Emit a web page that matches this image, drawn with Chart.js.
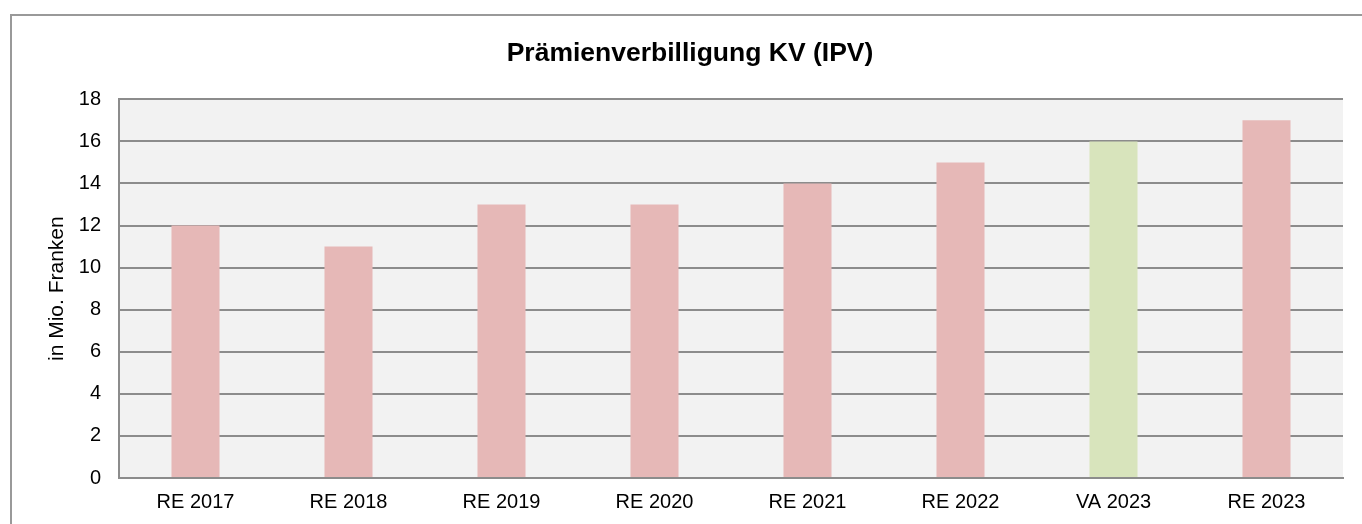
<!DOCTYPE html>
<html>
<head>
<meta charset="utf-8">
<script src="https://cdn.jsdelivr.net/npm/chart.js@4"></script>
<style>
  html, body { margin: 0; padding: 0; background: #fff; }
  #wrap { position: relative; width: 1362px; height: 524px; }
</style>
</head>
<body>
<div id="wrap"><canvas id="ipvChart"></canvas></div>
<script>
// Daten
const categories = ["RE 2017", "RE 2018", "RE 2019", "RE 2020", "RE 2021", "RE 2022", "VA 2023", "RE 2023"];
const values = [12, 11, 13, 13, 14, 15, 16, 17];
const barColors = ["#e6b8b7", "#e6b8b7", "#e6b8b7", "#e6b8b7", "#e6b8b7", "#e6b8b7", "#d8e4bc", "#e6b8b7"];
const yTicks = [0, 2, 4, 6, 8, 10, 12, 14, 16, 18];

const FONT = "'Liberation Sans', Arial, sans-serif";

// Rahmen + grauer Plot-Hintergrund
const frameAndBg = {
  id: "frameAndBg",
  afterLayout(chart) {
    // Titel etwas nach rechts schieben (Mitte ~690 wie im Original)
    const tb = chart.titleBlock;
    if (tb) { tb.right = tb.left + 2 * (690 - tb.left); }
  },
  beforeDraw(chart) {
    const { ctx, chartArea: a } = chart;
    ctx.save();
    ctx.fillStyle = "#f2f2f2";
    ctx.fillRect(a.left, a.top, a.right - a.left, a.bottom - a.top);
    ctx.strokeStyle = "#999999";
    ctx.lineWidth = 2;
    ctx.beginPath();
    ctx.moveTo(11, 524);
    ctx.lineTo(11, 15);
    ctx.lineTo(1362, 15);
    ctx.stroke();
    ctx.restore();
  }
};

new Chart(document.getElementById("ipvChart"), {
  type: "bar",
  data: {
    labels: categories,
    datasets: [{
      data: values,
      backgroundColor: barColors,
      borderWidth: 0,
      categoryPercentage: 1,
      barPercentage: 0.314
    }]
  },
  options: {
    responsive: true,
    maintainAspectRatio: false,
    animation: false,
    layout: { padding: { left: 12, right: 19, top: 16, bottom: 0 } },
    plugins: {
      legend: { display: false },
      tooltip: { enabled: false },
      title: {
        display: true,
        text: "Prämienverbilligung KV (IPV)",
        color: "#000",
        font: { family: FONT, size: 26.5, weight: "bold" },
        padding: { top: 22, bottom: 29.5 }
      }
    },
    scales: {
      x: {
        grid: { display: false },
        border: { display: true, color: "#8c8c8c", width: 2 },
        ticks: { color: "#000", font: { family: FONT, size: 20 }, padding: 4, maxRotation: 0 },
        afterFit: (s) => { s.height = 46; }
      },
      y: {
        min: 0,
        max: 18,
        afterBuildTicks: (s) => { s.ticks = yTicks.map(v => ({ value: v })); },
        grid: { color: "#8c8c8c", lineWidth: 2, drawTicks: false },
        border: { display: true, color: "#8c8c8c", width: 2 },
        ticks: { color: "#000", font: { family: FONT, size: 20 }, padding: 18 },
        title: {
          display: true,
          text: "in Mio. Franken",
          color: "#000",
          font: { family: FONT, size: 21 },
          padding: { top: 33, bottom: 0 }
        },
        afterFit: (s) => { s.width = 107; }
      }
    }
  },
  plugins: [frameAndBg]
});
</script>
</body>
</html>
